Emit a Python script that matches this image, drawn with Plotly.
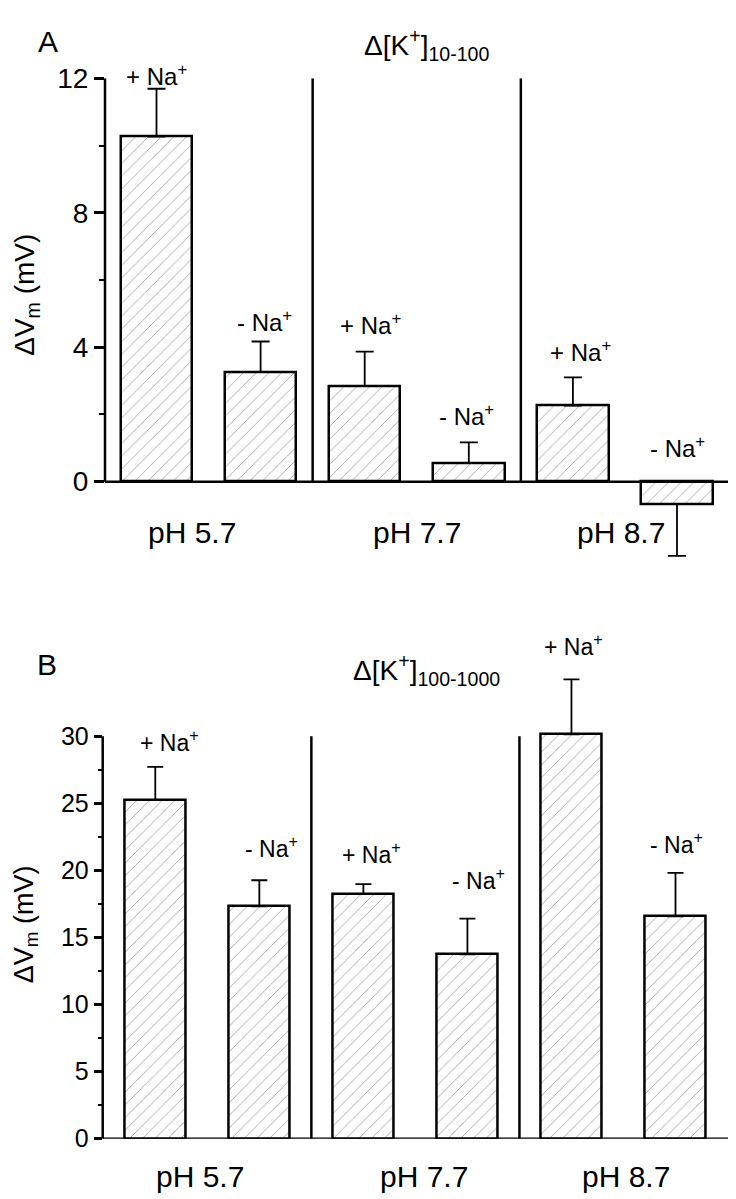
import plotly.graph_objects as go

# ---------------- data ----------------
groups = ["pH 5.7", "pH 7.7", "pH 8.7"]
conditions = ["+ Na<sup>+</sup>", "- Na<sup>+</sup>"]

a_mean = [10.27, 3.26, 2.85, 0.55, 2.26, -0.67]
a_err = [1.42, 0.91, 1.02, 0.62, 0.84, 1.54]

b_mean = [25.23, 17.32, 18.22, 13.74, 30.13, 16.58]
b_err = [2.48, 1.94, 0.75, 2.66, 4.10, 3.23]

a_yticks = [0, 4, 8, 12]
a_yminor = [2, 6, 10]
b_yticks = [0, 5, 10, 15, 20, 25, 30]
b_yminor = [2.5, 7.5, 12.5, 17.5, 22.5, 27.5]

a_title = "Δ[K<sup>+</sup>]<sub>10-100</sub>"
b_title = "Δ[K<sup>+</sup>]<sub>100-1000</sub>"
y_title = "ΔV<sub>m</sub> (mV)"

# ---------------- layout helpers ----------------
OFF_X, OFF_Y = 8, 24          # where the figure lands on the page
S_Y = 0.975                   # vertical scale of the page photo
W, H = 720, 1195
FONT = "Liberation Sans, Arial, sans-serif"


def px(x):
    return min(1.0, max(0.0, (x - OFF_X) / W))


def fig_y(y):
    return y / S_Y - OFF_Y


def py(y):
    return min(1.0, max(0.0, 1 - fig_y(y) / H))


n_bars = len(groups) * len(conditions)
xs = list(range(n_bars))
labels = [c for g in groups for c in conditions]

# panel geometry (target picture pixels)
A_X0, A_X1, A_C0, A_UNIT = 105, 728, 156.5, 104.1
B_X0, B_X1, B_C0, B_UNIT = 102.7, 728, 155.3, 104.04
A_ZERO, A_TOP = 481.7, 78.7
B_ZERO, B_TOP = 1138.3, 736
A_RANGE = [-2.5, 12]
B_RANGE = [0, 35]
a_scale = (A_ZERO - A_TOP) / a_yticks[-1]
b_scale = (B_ZERO - B_TOP) / b_yticks[-1]
A_BOT = A_ZERO - A_RANGE[0] * a_scale
A_UP = A_ZERO - A_RANGE[1] * a_scale
B_BOT = B_ZERO - B_RANGE[0] * b_scale
B_UP = B_ZERO - B_RANGE[1] * b_scale
a_xrange = [(A_X0 - A_C0) / A_UNIT, (A_X1 - A_C0) / A_UNIT]
b_xrange = [(B_X0 - B_C0) / B_UNIT, (B_X1 - B_C0) / B_UNIT]

# styling offsets for annotations (pixels)
a_lab_dy = [14, 20, 28, 27, 26, 35]
a_lab_dx = [0, 4, 6, -2, 8, 0]
b_lab_dy = [26, 33, 31, 40, 34, 30]
b_lab_dx = [14, 12, 8, 11, 2, 1]
a_ph_dx = [-17, 0, -4]
b_ph_dx = [-7, 9, 3]

fig = go.Figure()


def add_panel(mean, err, xa, ya, width, capw):
    plus = [e if m >= 0 else 0 for m, e in zip(mean, err)]
    minus = [0 if m >= 0 else e for m, e in zip(mean, err)]
    fig.add_trace(go.Bar(
        x=xs, y=mean, xaxis=xa, yaxis=ya, width=width,
        marker=dict(color="white",
                    line=dict(color="black", width=2.5),
                    pattern=dict(shape="/", fgcolor="#4a4a4a", bgcolor="white",
                                 size=9, solidity=0.1)),
        error_y=dict(type="data", symmetric=False, array=plus, arrayminus=minus,
                     color="black", thickness=1.8, width=capw),
        showlegend=False, hoverinfo="skip",
    ))


add_panel(a_mean, a_err, "x", "y", 0.687, 9)
add_panel(b_mean, b_err, "x2", "y2", 0.586, 8)

axis_common = dict(showgrid=False, zeroline=False, showline=False)

fig.update_layout(
    width=W, height=H, margin=dict(l=0, r=0, t=0, b=0),
    paper_bgcolor="white", plot_bgcolor="white",
    font=dict(family=FONT, color="black"),
    bargap=0,
    xaxis=dict(domain=[px(A_X0), px(A_X1)], range=a_xrange, anchor="y",
               showticklabels=False, ticks="", **axis_common),
    yaxis=dict(domain=[py(A_BOT), py(A_UP)], range=A_RANGE, anchor="x",
               tickvals=a_yticks, ticks="outside", ticklen=10, tickwidth=2.5,
               tickcolor="black", tickfont=dict(size=28, family=FONT),
               minor=dict(tickvals=a_yminor, ticks="outside", ticklen=5,
                          tickwidth=2, tickcolor="black"),
               **axis_common),
    xaxis2=dict(domain=[px(B_X0), px(B_X1)], range=b_xrange, anchor="y2",
                showticklabels=False, ticks="", **axis_common),
    yaxis2=dict(domain=[py(B_BOT), py(B_UP)], range=B_RANGE, anchor="x2",
                tickvals=b_yticks, ticks="outside", ticklen=8, tickwidth=2.5,
                tickcolor="black", tickfont=dict(size=25, family=FONT),
                minor=dict(tickvals=b_yminor, ticks="outside", ticklen=4,
                           tickwidth=2, tickcolor="black"),
                **axis_common),
)

line_style = dict(color="black", width=2.5)
for xa, ya, top in (("x", "y", a_yticks[-1]), ("x2", "y2", b_yticks[-1])):
    # y axis line (0 .. top tick) and baseline at zero
    fig.add_shape(type="line", xref=xa + " domain", yref=ya, x0=0, x1=0, y0=0, y1=top,
                  line=line_style)
    fig.add_shape(type="line", xref=xa + " domain", yref=ya, x0=0, x1=1, y0=0, y1=0,
                  line=line_style)
    # group dividers
    for g in range(1, len(groups)):
        xd = g * len(conditions) - 0.5
        fig.add_shape(type="line", xref=xa, yref=ya, x0=xd, x1=xd, y0=0, y1=top,
                      line=line_style)

ann = []


def na_labels(mean, err, xa, ya, dys, dxs, size):
    for i, (m, e) in enumerate(zip(mean, err)):
        top = m + e if m >= 0 else 0
        ann.append(dict(x=xs[i], y=top, xref=xa, yref=ya, text=labels[i],
                        showarrow=False, yanchor="middle", xanchor="center",
                        yshift=dys[i], xshift=dxs[i],
                        font=dict(size=size, family=FONT)))


def ph_labels(xa, ya, dxs, dy):
    for g, name in enumerate(groups):
        xc = g * len(conditions) + (len(conditions) - 1) / 2
        ann.append(dict(x=xc, y=0, xref=xa, yref=ya, text=name, showarrow=False,
                        yanchor="middle", xanchor="center", yshift=-dy, xshift=dxs[g],
                        font=dict(size=30, family=FONT)))


na_labels(a_mean, a_err, "x", "y", a_lab_dy, a_lab_dx, 24)
na_labels(b_mean, b_err, "x2", "y2", b_lab_dy, b_lab_dx, 23)
ph_labels("x", "y", a_ph_dx, 51)
ph_labels("x2", "y2", b_ph_dx, 38)

# panel letters, titles, y titles
ann += [
    dict(x=px(36), y=1.0, xref="paper", yref="paper", text="A", showarrow=False,
         xanchor="left", yanchor="top", font=dict(size=30, family=FONT)),
    dict(x=px(35), y=py(664), xref="paper", yref="paper", text="B", showarrow=False,
         xanchor="left", yanchor="middle", font=dict(size=30, family=FONT)),
    dict(x=px(362), y=1.0, xref="paper", yref="paper", text=a_title,
         showarrow=False, xanchor="left", yanchor="top", font=dict(size=28, family=FONT)),
    dict(x=px(351), y=py(670), xref="paper", yref="paper", text=b_title, showarrow=False,
         xanchor="left", yanchor="middle", font=dict(size=28, family=FONT)),
    dict(x=px(27), y=py(295), xref="paper", yref="paper", text=y_title, showarrow=False,
         textangle=-90, xanchor="center", yanchor="middle", font=dict(size=28, family=FONT)),
    dict(x=px(26), y=py(924), xref="paper", yref="paper", text=y_title, showarrow=False,
         textangle=-90, xanchor="center", yanchor="middle", font=dict(size=27, family=FONT)),
]
fig.update_layout(annotations=ann)

fig.write_html("out.html")
